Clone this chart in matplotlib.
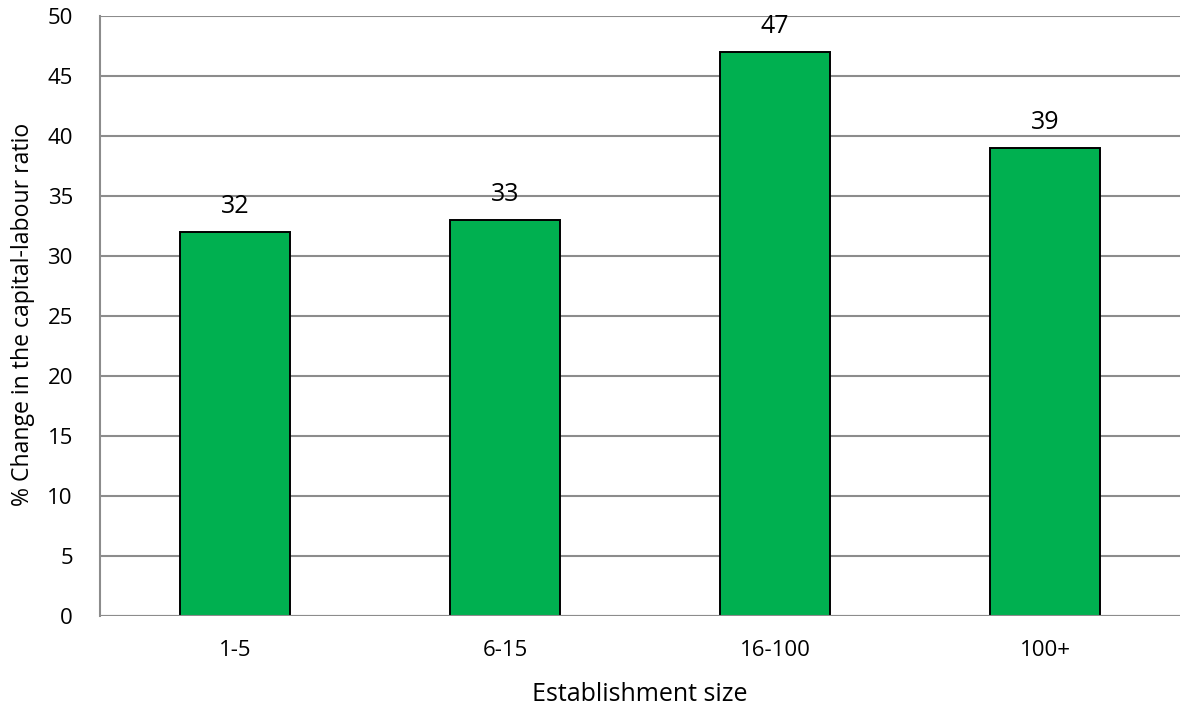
import matplotlib.pyplot as plt

sizes = ['1-5', '6-15', '16-100', '100+']
pct_change = [32, 33, 47, 39]

plt.rcParams['font.family'] = ['Open Sans', 'DejaVu Sans']

fig = plt.figure(figsize=(11.85, 7.08), dpi=100)
ax = fig.add_axes([100/1185, 92/708, 1080/1185, 600/708])

x = range(len(sizes))
bars = ax.bar(x, pct_change, width=0.407, color='#00B050', edgecolor='black', linewidth=1.4, zorder=3)

# value labels above bars
for b, v in zip(bars, pct_change):
    ax.annotate(str(v), (b.get_x() + b.get_width() / 2, v), xytext=(0, 13.5),
                textcoords='offset points', ha='center', va='baseline', fontsize=18,
                zorder=5)

ax.set_xlim(-0.5, len(sizes) - 0.5)
ax.set_ylim(0, 50)
ax.set_yticks(range(0, 51, 5))
ax.set_xticks(list(x))
ax.set_xticklabels(sizes)
ax.tick_params(axis='both', length=0, labelsize=16)
ax.tick_params(axis='y', pad=19.5)
ax.tick_params(axis='x', pad=17)
ax.yaxis.grid(True, color='#8c8c8c', linewidth=1.5, zorder=0)
for s in ['top', 'right', 'bottom']:
    ax.spines[s].set_visible(False)
ax.spines['left'].set_color('#8c8c8c')
ax.spines['left'].set_linewidth(1.5)
ax.axhline(0, color='#8c8c8c', linewidth=1.5, zorder=4)

fig.text(640/1185, 7/708, 'Establishment size', fontsize=18, ha='center', va='baseline')
fig.text(23/1185, (708-314)/708, '% Change in the capital-labour ratio', fontsize=16.6,
         rotation=90, ha='center', va='center')

fig.savefig('out.png', dpi=100)
